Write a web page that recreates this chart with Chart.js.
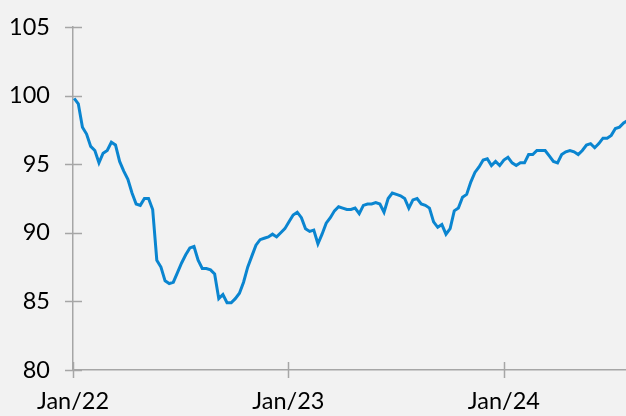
<!DOCTYPE html>
<html>
<head>
<meta charset="utf-8">
<script src="https://cdn.jsdelivr.net/npm/chart.js@4.4.1/dist/chart.umd.min.js"></script>
<style>
  html, body { margin: 0; padding: 0; background: #f2f2f2; }
  #wrap { width: 626px; height: 416px; position: relative; }
</style>
</head>
<body>
<div id="wrap"><canvas id="c" width="626" height="416"></canvas></div>
<script>
// Weekly observations (Mondays)
const dates = [
 '2022-01-03','2022-01-10','2022-01-17','2022-01-24','2022-01-31','2022-02-07','2022-02-14','2022-02-21','2022-02-28',
 '2022-03-07','2022-03-14','2022-03-21','2022-03-28','2022-04-04','2022-04-11','2022-04-18','2022-04-25',
 '2022-05-02','2022-05-09','2022-05-16','2022-05-23','2022-05-30','2022-06-06','2022-06-13','2022-06-20','2022-06-27',
 '2022-07-04','2022-07-11','2022-07-18','2022-07-25','2022-08-01','2022-08-08','2022-08-15','2022-08-22','2022-08-29',
 '2022-09-05','2022-09-12','2022-09-19','2022-09-26','2022-10-03','2022-10-10','2022-10-17','2022-10-24','2022-10-31',
 '2022-11-07','2022-11-14','2022-11-21','2022-11-28','2022-12-05','2022-12-12','2022-12-19','2022-12-26',
 '2023-01-02','2023-01-09','2023-01-16','2023-01-23','2023-01-30','2023-02-06','2023-02-13','2023-02-20','2023-02-27',
 '2023-03-06','2023-03-13','2023-03-20','2023-03-27','2023-04-03','2023-04-10','2023-04-17','2023-04-24',
 '2023-05-01','2023-05-08','2023-05-15','2023-05-22','2023-05-29','2023-06-05','2023-06-12','2023-06-19','2023-06-26',
 '2023-07-03','2023-07-10','2023-07-17','2023-07-24','2023-07-31','2023-08-07','2023-08-14','2023-08-21','2023-08-28',
 '2023-09-04','2023-09-11','2023-09-18','2023-09-25','2023-10-02','2023-10-09','2023-10-16','2023-10-23','2023-10-30',
 '2023-11-06','2023-11-13','2023-11-20','2023-11-27','2023-12-04','2023-12-11','2023-12-18','2023-12-25',
 '2024-01-01','2024-01-08','2024-01-15','2024-01-22','2024-01-29','2024-02-05','2024-02-12','2024-02-19','2024-02-26',
 '2024-03-04','2024-03-11','2024-03-18','2024-03-25','2024-04-01','2024-04-08','2024-04-15','2024-04-22','2024-04-29',
 '2024-05-06','2024-05-13','2024-05-20','2024-05-27','2024-06-03','2024-06-10','2024-06-17','2024-06-24',
 '2024-07-01','2024-07-08','2024-07-15','2024-07-22','2024-07-29'
];
const values = [
 99.8, 99.4, 97.7, 97.2, 96.3, 96.0, 95.1, 95.8, 96.0,
 96.6, 96.4, 95.2, 94.5, 93.9, 92.9, 92.1, 92.0,
 92.5, 92.5, 91.7, 88.0, 87.5, 86.5, 86.3, 86.4, 87.1,
 87.8, 88.4, 88.9, 89.0, 88.0, 87.4, 87.4, 87.3, 87.0,
 85.2, 85.5, 84.9, 84.9, 85.2, 85.6, 86.4, 87.5, 88.3,
 89.1, 89.5, 89.6, 89.7, 89.9, 89.7, 90.0, 90.3,
 90.8, 91.3, 91.5, 91.1, 90.3, 90.1, 90.2, 89.2, 89.9,
 90.7, 91.1, 91.6, 91.9, 91.8, 91.7, 91.7, 91.8,
 91.4, 92.0, 92.1, 92.1, 92.2, 92.1, 91.5, 92.5, 92.9,
 92.8, 92.7, 92.5, 91.8, 92.4, 92.5, 92.1, 92.0, 91.8,
 90.8, 90.4, 90.6, 89.9, 90.3, 91.6, 91.8, 92.6, 92.8,
 93.7, 94.4, 94.8, 95.3, 95.4, 94.9, 95.2, 94.9,
 95.3, 95.5, 95.1, 94.9, 95.1, 95.1, 95.7, 95.7, 96.0,
 96.0, 96.0, 95.6, 95.2, 95.1, 95.7, 95.9, 96.0, 95.9,
 95.7, 96.0, 96.4, 96.5, 96.2, 96.5, 96.9, 96.9,
 97.1, 97.6, 97.7, 98.0, 98.2
];
const tickDates = ['2022-01-01', '2023-01-01', '2024-01-01'];
const tickLabels = ['Jan/22', 'Jan/23', 'Jan/24'];
const axisEndDate = '2024-07-26';

const base = Date.UTC(2022, 0, 1);
function dayNum(s) {
  const p = s.split('-').map(Number);
  return (Date.UTC(p[0], p[1] - 1, p[2]) - base) / 86400000;
}
const points = dates.map((d, i) => ({ x: dayNum(d), y: values[i] }));
const tickDays = tickDates.map(dayNum);

const AXIS = '#a6a6a6';
const FONT = { family: 'Lato, "Open Sans", sans-serif', size: 23.5 };

const bgPlugin = {
  id: 'bg',
  beforeDraw(chart) {
    const c = chart.ctx;
    c.save(); c.fillStyle = '#f2f2f2'; c.fillRect(0, 0, chart.width, chart.height); c.restore();
  }
};
const crossTicks = {
  id: 'crossTicks',
  afterDatasetsDraw(chart) {
    const c = chart.ctx, xs = chart.scales.x, ys = chart.scales.y, a = chart.chartArea;
    c.save();
    c.strokeStyle = AXIS; c.lineWidth = 1.5;
    ys.ticks.forEach(t => {
      const p = Math.round(ys.getPixelForValue(t.value)) + 0.5;
      c.beginPath(); c.moveTo(a.left - 8, p); c.lineTo(a.left + 9, p); c.stroke();
    });
    xs.ticks.forEach(t => {
      const p = Math.round(xs.getPixelForValue(t.value)) + 0.5;
      c.beginPath(); c.moveTo(p, a.bottom - 8); c.lineTo(p, a.bottom + 8); c.stroke();
    });
    c.restore();
  }
};

new Chart(document.getElementById('c'), {
  type: 'line',
  data: {
    datasets: [{
      data: points,
      borderColor: '#0a85d0',
      borderWidth: 3,
      pointRadius: 0,
      tension: 0,
      fill: false
    }]
  },
  options: {
    responsive: false,
    animation: false,
    events: [],
    layout: { padding: { top: 27, right: 0, left: 0, bottom: 0 } },
    plugins: { legend: { display: false }, tooltip: { enabled: false } },
    scales: {
      x: {
        type: 'linear',
        min: 0,
        max: dayNum(axisEndDate),
        afterBuildTicks: s => { s.ticks = tickDays.map(v => ({ value: v })); },
        afterFit: s => { s.height = 46; s.paddingLeft = 0; s.paddingRight = 0; },
        ticks: {
          autoSkip: false,
          maxRotation: 0,
          padding: 17,
          color: '#000',
          font: FONT,
          callback: (v) => { const i = tickDays.indexOf(v); return i >= 0 ? tickLabels[i] : ''; }
        },
        grid: { display: true, drawOnChartArea: false, drawTicks: false, color: AXIS },
        border: { display: true, color: AXIS, width: 1.5 }
      },
      y: {
        min: 80,
        max: 105,
        afterFit: s => { s.width = 73; s.paddingTop = 0; s.paddingBottom = 0; },
        ticks: { stepSize: 5, padding: 23, color: '#000', font: FONT },
        grid: { display: true, drawOnChartArea: false, drawTicks: false, color: AXIS },
        border: { display: true, color: AXIS, width: 1.5 }
      }
    }
  },
  plugins: [bgPlugin, crossTicks]
});
</script>
</body>
</html>
